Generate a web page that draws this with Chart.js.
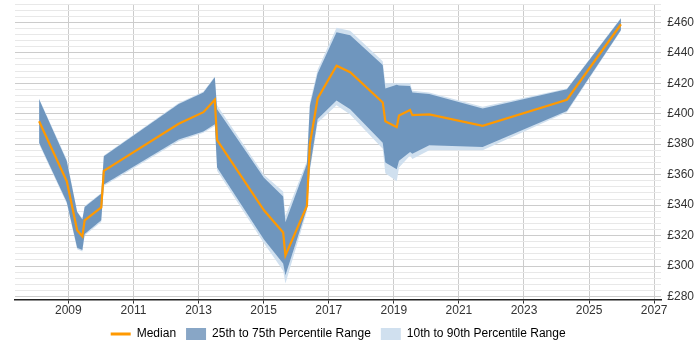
<!DOCTYPE html>
<html>
<head>
<meta charset="utf-8">
<script src="https://cdn.jsdelivr.net/npm/chart.js@4/dist/chart.umd.min.js"></script>
<style>
html,body{margin:0;padding:0;background:#fff;}
#wrap{width:700px;height:350px;position:relative;}
</style>
</head>
<body>
<div id="wrap"><canvas id="c" width="700" height="350"></canvas></div>
<script>
// Dates (decimal years)
const years = [2008.1, 2008.95, 2009.27, 2009.43, 2009.5, 2010.01, 2010.09, 2012.39, 2013.15, 2013.5, 2013.57,
  2015.01, 2015.6, 2015.67, 2016.33, 2016.42, 2016.66, 2017.24, 2017.66, 2018.66, 2018.74,
  2019.09, 2019.16, 2019.5, 2019.57, 2020.09, 2021.73, 2024.32, 2025.98];
const median = [395, 355.7, 323.5, 319.5, 330, 338.5, 362.5, 393.4, 401, 409.2, 382.7,
  336.6, 322, 307, 339.5, 380, 410, 431.5, 427.2, 407.4, 395,
  391.2, 398.8, 402.5, 399.1, 399.5, 392.1, 409.2, 458.7];
const p25 = [381, 342, 312, 310.5, 321, 330, 353.5, 383, 388.3, 393, 364.7,
  317.5, 301.7, 294, 337.8, 364, 396.5, 408.6, 402.9, 381, 368,
  363.6, 369.2, 374.8, 373.7, 379.3, 378.2, 401.8, 455];
const p75 = [409.5, 369, 335.5, 330.5, 338.8, 347.5, 372, 406.3, 414, 424, 403,
  358, 345.6, 328.7, 367, 405, 426.5, 453.5, 451.5, 432, 416.5,
  419, 418.5, 418.2, 414, 413, 403.4, 416, 462.5];
const p10 = [380, 341, 311, 309.5, 320, 329, 352.5, 382, 387.5, 392, 362.5,
  315, 297, 288.5, 336, 362, 394, 405.5, 399.5, 377, 361,
  355.7, 364.7, 372.5, 370.3, 376, 376, 401, 454.5];
const p90 = [410, 370, 336, 331, 339.5, 348, 372.5, 407, 414.5, 424.5, 405.5,
  360, 349, 333, 369, 407, 429, 456.4, 454.5, 434.5, 420,
  420, 420, 420, 415, 414, 404.5, 416.5, 463];
const xTicks = [2009, 2011, 2013, 2015, 2017, 2019, 2021, 2023, 2025, 2027];
const yTicks = [280, 284, 288, 292, 296, 300, 304, 308, 312, 316, 320, 324, 328, 332, 336, 340, 344, 348, 352, 356,
  360, 364, 368, 372, 376, 380, 384, 388, 392, 396, 400, 404, 408, 412, 416, 420, 424, 428, 432, 436,
  440, 444, 448, 452, 456, 460, 464, 468, 472];

const pts = arr => arr.map((v, i) => ({x: years[i], y: v}));
const DARK = 'rgba(7,70,136,0.48)';
const LIGHT = '#d0e0ef';
const ORANGE = '#ff9900';
const FONT = {family: 'Liberation Sans, Arial, sans-serif', size: 12};

const legendShift = {
  id: 'legendShift',
  afterLayout(chart) {
    const l = chart.legend, ca = chart.chartArea;
    const d = (ca.left + ca.right) / 2 - (l.left + l.right) / 2;
    l.left += d; l.right += d;
  }
};

new Chart(document.getElementById('c'), {
  type: 'line',
  data: {
    datasets: [
      {label: 'Median', data: pts(median), borderColor: ORANGE, borderWidth: 2.2, pointRadius: 0, fill: false, tension: 0},
      {label: '25th to 75th Percentile Range', data: pts(p75), borderWidth: 0, borderColor: 'rgba(0,0,0,0)', backgroundColor: DARK, pointRadius: 0, fill: 2, tension: 0},
      {label: 'p25', data: pts(p25), borderWidth: 0, borderColor: 'rgba(0,0,0,0)', pointRadius: 0, fill: false, tension: 0},
      {label: '10th to 90th Percentile Range', data: pts(p90), borderWidth: 0, borderColor: 'rgba(0,0,0,0)', backgroundColor: LIGHT, pointRadius: 0, fill: 4, tension: 0},
      {label: 'p10', data: pts(p10), borderWidth: 0, borderColor: 'rgba(0,0,0,0)', pointRadius: 0, fill: false, tension: 0}
    ]
  },
  plugins: [legendShift],
  options: {
    responsive: false,
    animation: false,
    layout: {padding: {left: 15, top: 4, right: 0, bottom: 0}},
    plugins: {
      tooltip: {enabled: false},
      legend: {
        position: 'bottom',
        labels: {
          usePointStyle: true,
          pointStyleWidth: 20,
          boxHeight: 12,
          padding: 10,
          color: '#333',
          font: FONT,
          generateLabels: () => [
            {text: 'Median', pointStyle: 'line', strokeStyle: ORANGE, fillStyle: ORANGE, lineWidth: 3, datasetIndex: 0},
            {text: '25th to 75th Percentile Range', pointStyle: 'rect', fillStyle: '#88a6c6', strokeStyle: '#88a6c6', lineWidth: 0, datasetIndex: 1},
            {text: '10th to 90th Percentile Range', pointStyle: 'rect', fillStyle: LIGHT, strokeStyle: LIGHT, lineWidth: 0, datasetIndex: 3}
          ]
        }
      }
    },
    scales: {
      x: {
        type: 'linear',
        min: 2007.36,
        max: 2027.22,
        afterBuildTicks: s => { s.ticks = xTicks.map(v => ({value: v})); },
        ticks: {
          callback: v => String(v),
          color: '#333',
          font: FONT,
          maxRotation: 0,
          autoSkip: false,
          padding: 0
        },
        grid: {color: '#cccccc', tickLength: 4, tickColor: '#333'},
        border: {color: '#222', width: 1.5}
      },
      y: {
        position: 'right',
        min: 278,
        max: 472,
        afterBuildTicks: s => { s.ticks = yTicks.map(v => ({value: v})); },
        afterFit: s => { s.paddingTop = 0; s.paddingBottom = 0; },
        ticks: {
          autoSkip: false,
          callback: v => (Math.round(v) % 20 === 0 ? '£' + Math.round(v) : ''),
          color: '#333',
          font: FONT,
          padding: 6
        },
        grid: {
          drawTicks: false,
          color: ctx => (ctx.tick && Math.round(ctx.tick.value) % 20 === 0 ? '#cccccc' : '#e8e8e8')
        },
        border: {display: false}
      }
    }
  }
});
</script>
</body>
</html>
